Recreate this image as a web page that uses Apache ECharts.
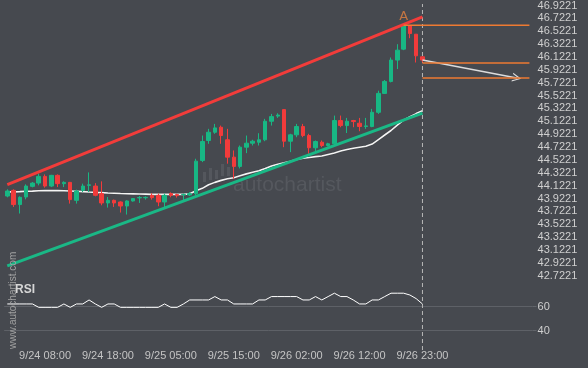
<!DOCTYPE html>
<html>
<head>
<meta charset="utf-8">
<script src="https://cdn.jsdelivr.net/npm/echarts@6/dist/echarts.min.js"></script>
<style>html,body{margin:0;padding:0;background:#46494f;}#c{width:588px;height:368px;}</style>
</head>
<body>
<div id="c"></div>
<script>
// ---- data ----
const tickIdx = [6, 16, 26, 36, 46, 56, 66];
const tickLabels = ['9/24 08:00', '9/24 18:00', '9/25 05:00', '9/25 15:00', '9/26 02:00', '9/26 12:00', '9/26 23:00'];
const priceTicks = [42.7221, 42.9221, 43.1221, 43.3221, 43.5221, 43.7221, 43.9221, 44.1221, 44.3221, 44.5221, 44.7221,
  44.9221, 45.1221, 45.3221, 45.5221, 45.7221, 45.9221, 46.1221, 46.3221, 46.5221, 46.7221, 46.9221];
const rsiTicks = [40, 60];
const totalSlots = 84;
// [open, close, low, high]
const ohlc = [
  [43.961,44.039,43.941,44.065],[44.049,43.828,43.791,44.065],[43.828,43.941,43.689,43.956],[43.946,44.116,43.910,44.142],
  [44.111,44.162,44.096,44.178],[44.162,44.266,44.127,44.308],[44.266,44.116,44.091,44.297],[44.116,44.282,44.100,44.290],
  [44.282,44.153,44.100,44.297],[44.153,44.173,44.100,44.189],[44.173,43.905,43.843,44.180],[43.894,44.039,43.843,44.060],
  [44.049,44.116,44.023,44.153],[44.127,44.135,44.023,44.328],[44.116,43.972,43.956,44.162],[43.998,43.853,43.817,44.189],
  [43.853,43.894,43.781,43.946],[43.894,43.853,43.791,43.905],[43.868,43.806,43.704,43.879],[43.806,43.884,43.673,43.894],
  [43.884,43.921,43.874,43.930],[43.932,43.938,43.853,43.961],[43.934,43.940,43.905,43.956],[43.972,43.936,43.905,44.003],
  [43.972,43.868,43.802,43.998],[43.868,43.972,43.766,43.998],[43.998,43.972,43.941,44.018],[43.983,43.967,43.936,43.998],
  [43.981,43.986,43.868,43.998],[43.977,43.998,43.961,44.023],[43.998,44.503,43.972,44.540],[44.514,44.808,44.488,44.901],
  [44.824,44.952,44.773,45.005],[44.952,45.020,44.928,45.082],[45.030,44.901,44.773,45.056],[44.835,44.565,44.463,45.005],
  [44.565,44.421,44.231,44.669],[44.421,44.720,44.390,44.746],[44.720,44.782,44.627,44.901],[44.782,44.813,44.746,44.835],
  [44.797,44.835,44.746,44.937],[44.835,45.123,44.813,45.160],[45.123,45.195,45.056,45.237],[45.203,45.219,45.175,45.247],
  [45.304,44.813,44.720,45.304],[44.813,44.912,44.643,44.928],[44.912,45.041,44.875,45.082],[45.041,44.901,44.875,45.082],
  [44.901,44.711,44.618,44.928],[44.711,44.808,44.643,44.824],[44.797,44.746,44.720,44.824],[44.746,44.773,44.731,44.788],
  [44.773,45.134,44.746,45.211],[45.134,45.056,45.030,45.211],[45.056,45.123,44.940,45.175],[45.134,45.118,45.030,45.144],
  [45.092,45.041,44.968,45.175],[45.041,45.051,45.005,45.175],[45.041,45.262,45.030,45.315],[45.262,45.556,45.237,45.598],
  [45.556,45.742,45.547,45.764],[45.742,46.074,45.727,46.114],[46.074,46.228,45.934,46.321],[46.244,46.605,46.228,46.631],
  [46.605,46.486,46.414,46.615],[46.476,46.140,46.036,46.476],[46.125,46.074,46.036,46.125]
];
const maValues = [44.026,44.026,44.029,44.034,44.037,44.042,44.045,44.045,44.045,44.042,44.039,44.034,44.029,44.023,
  44.018,44.014,44.009,44.005,44.000,43.997,43.995,43.992,43.991,43.987,43.987,43.987,43.987,43.987,43.987,43.995,
  44.042,44.080,44.135,44.173,44.204,44.228,44.246,44.277,44.305,44.331,44.355,44.390,44.429,44.455,44.478,44.502,
  44.529,44.548,44.560,44.573,44.584,44.607,44.630,44.661,44.684,44.703,44.720,44.735,44.769,44.839,44.909,44.979,
  45.064,45.141,45.195,45.242,45.288];
const rsiValues = [62.1,62.1,62.1,62.1,62.1,59.3,59.3,59.3,59.3,62.1,59.3,62.1,62.1,65.4,62.1,59.3,62.1,62.1,
  59.3,59.3,59.3,59.3,59.3,59.3,59.3,62.1,59.3,59.3,62.1,65.4,65.4,65.4,65.4,68.2,65.4,65.4,62.1,62.1,62.1,62.1,
  65.4,65.4,68.2,68.2,68.2,68.2,68.2,65.4,65.4,68.2,65.4,68.2,71,68.2,68.2,65.4,62.1,62.1,65.4,65.4,68.2,71,71,71,
  69.5,66.5,62.1];
const resistLine = [[0, 44.139], [66, 46.744]];
const supportLine = [[0, 42.876], [66, 45.250]];
const levelA = [[63, 46.615], [83, 46.615]];
const level2 = [[66, 46.027], [83, 46.027]];
const level3 = [[66, 45.795], [83, 45.795]];
const arrowFrom = [66, 46.074];
const arrowTo = [81, 45.795];
const lastIdx = 66;

// ---- chart ----
const cats = Array.from({length: totalSlots}, (_, i) => String(i));
const GREEN = '#18b784', RED = '#f23b3b', ORANGE = '#ee7a32';
const gridL = 4.15, gridW = 528.4;
const chart = echarts.init(document.getElementById('c'), null, {renderer: 'canvas'});
const font = 'Liberation Sans, Arial, sans-serif';
chart.setOption({
  backgroundColor: '#46494f',
  animation: false,
  grid: [
    {left: gridL, width: gridW, top: 0, height: 282},
    {left: gridL, width: gridW, top: 282.3, height: 60.5},
    {left: gridL, width: gridW, top: 4, height: 346}
  ],
  xAxis: [
    {gridIndex: 0, type: 'category', data: cats, axisLine: {show: false}, axisTick: {show: false}, axisLabel: {show: false}},
    {gridIndex: 1, type: 'category', data: cats, axisLine: {show: false}, axisTick: {show: false},
      axisLabel: {interval: (i) => tickIdx.indexOf(i) >= 0, margin: 8, color: '#c4c4c4', fontSize: 11, fontFamily: font,
        formatter: (v, i) => { const k = tickIdx.indexOf(Number(v)); return k >= 0 ? tickLabels[k] : ''; }}},
    {gridIndex: 2, type: 'category', data: cats, show: false}
  ],
  yAxis: [
    {gridIndex: 0, type: 'value', position: 'right', min: 42.6246, max: 46.9919, scale: true,
      axisLine: {show: false}, axisTick: {show: false, customValues: priceTicks}, splitLine: {show: false},
      axisLabel: {customValues: priceTicks, margin: 5, color: '#cfcfcf', fontSize: 11, fontFamily: font,
        formatter: (v) => v.toFixed(4)}},
    {gridIndex: 1, type: 'value', position: 'right', min: 30, max: 80,
      axisLine: {show: false},
      axisTick: {show: true, customValues: rsiTicks, length: 4, inside: false, lineStyle: {color: '#62656b'}},
      splitLine: {show: true, lineStyle: {color: '#5e6167', width: 1}},
      axisLabel: {customValues: rsiTicks, margin: 5, color: '#cfcfcf', fontSize: 11, fontFamily: font}},
    {gridIndex: 2, type: 'value', min: 0, max: 1, show: false}
  ],
  series: [
    {type: 'line', xAxisIndex: 2, yAxisIndex: 2, data: [[lastIdx, 0], [lastIdx, 1]], symbol: 'none', silent: true,
      lineStyle: {color: '#b8b8b8', width: 1, type: [4, 3]}, z: 1},
    {type: 'line', xAxisIndex: 0, yAxisIndex: 0, data: maValues, symbol: 'none',
      lineStyle: {color: '#f4f4f4', width: 1.6, shadowColor: 'rgba(0,0,0,0.35)', shadowBlur: 1}, z: 3},
    {type: 'candlestick', xAxisIndex: 0, yAxisIndex: 0, data: ohlc, barWidth: 4,
      itemStyle: {color: GREEN, color0: RED, borderColor: GREEN, borderColor0: RED, borderWidth: 1}, z: 4},
    {type: 'line', xAxisIndex: 0, yAxisIndex: 0, data: resistLine, symbol: 'none', lineStyle: {color: '#f23c3a', width: 3}, z: 5},
    {type: 'line', xAxisIndex: 0, yAxisIndex: 0, data: supportLine, symbol: 'none', lineStyle: {color: '#1ab886', width: 3}, z: 5},
    {type: 'line', xAxisIndex: 0, yAxisIndex: 0, data: levelA, symbol: 'none', lineStyle: {color: ORANGE, width: 1.5}, z: 5},
    {type: 'line', xAxisIndex: 0, yAxisIndex: 0, data: level2, symbol: 'none', lineStyle: {color: ORANGE, width: 1.5}, z: 5},
    {type: 'line', xAxisIndex: 0, yAxisIndex: 0, data: level3, symbol: 'none', lineStyle: {color: ORANGE, width: 1.5}, z: 5},
    {type: 'scatter', xAxisIndex: 0, yAxisIndex: 0, data: [levelA[0]], symbolSize: 0, z: 6,
      label: {show: true, position: 'top', distance: 2, formatter: 'A', color: '#e2813f', fontSize: 13, fontFamily: 'DejaVu Sans, sans-serif'}},
    {type: 'line', xAxisIndex: 0, yAxisIndex: 0, data: [], symbol: 'none', z: 6,
      markLine: {silent: true, symbol: ['none', 'path://M0,10 L5,0 L10,10 L8.6,10 L5,2.8 L1.4,10 Z'], symbolSize: [9, 9],
        label: {show: false}, lineStyle: {color: '#dcdcdc', width: 1.5, type: 'solid'},
        data: [[{coord: arrowFrom}, {coord: arrowTo}]]}},
    {type: 'line', xAxisIndex: 1, yAxisIndex: 1, data: rsiValues, symbol: 'none', lineStyle: {color: '#ffffff', width: 1}, z: 3}
  ],
  graphic: [
    {type: 'group', silent: true, z: 0, children: [
      {type: 'rect', shape: {x: 203, y: 172, width: 3, height: 10}, style: {fill: '#54575d'}},
      {type: 'rect', shape: {x: 209, y: 168, width: 3, height: 12}, style: {fill: '#54575d'}},
      {type: 'rect', shape: {x: 215, y: 170, width: 3, height: 9}, style: {fill: '#54575d'}},
      {type: 'rect', shape: {x: 221, y: 164, width: 3, height: 12}, style: {fill: '#54575d'}},
      {type: 'rect', shape: {x: 227, y: 167, width: 3, height: 9}, style: {fill: '#54575d'}}
    ]},
    {type: 'text', left: 233, top: 175, silent: true, z: 0,
      style: {text: 'autochartist', fill: '#55585e', font: '21px ' + font}},
    {type: 'text', x: 8, y: 349, rotation: Math.PI / 2, silent: true, z: 10,
      style: {text: 'www.autochartist.com', fill: '#a2a2a2', font: '10px ' + font, textVerticalAlign: 'top'}},
    {type: 'text', left: 15, top: 284, silent: true, z: 9,
      style: {text: 'RSI', fill: '#d6d6d6', font: 'bold 12px ' + font}}
  ]
});
</script>
</body>
</html>
